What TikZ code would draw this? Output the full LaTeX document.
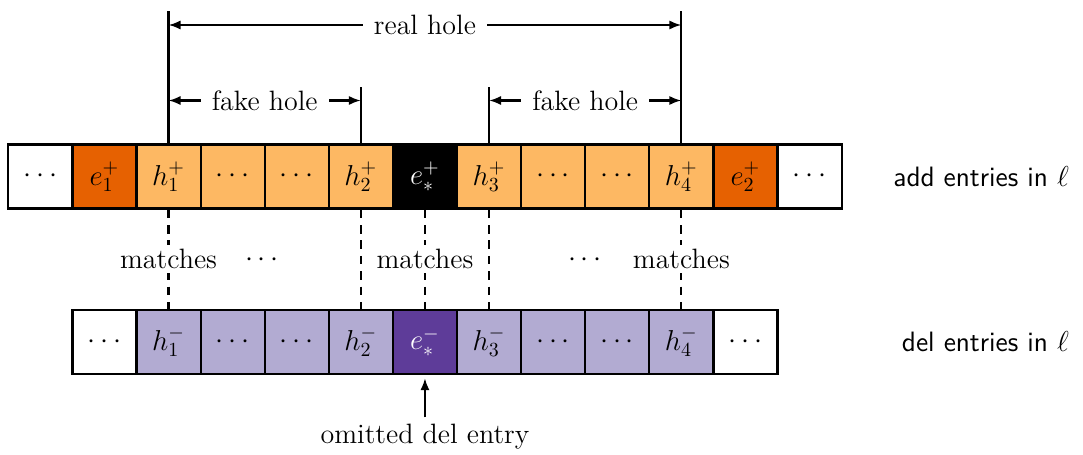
\documentclass[tikz,border=0pt]{standalone}
\usepackage{fontspec}
\usetikzlibrary{arrows.meta}
\definecolor{darkor}{HTML}{E66101}
\definecolor{lightor}{HTML}{FDB863}
\definecolor{lightpu}{HTML}{B2ABD2}
\definecolor{darkpu}{HTML}{5E3C99}
\begin{document}
\begin{tikzpicture}[x={(0.5pt,0)}, y={(0,-0.5pt)},
  every node/.style={font=\fontsize{14}{17}\selectfont},
  cell/.style={draw, line width=1.1pt, minimum size=32.05pt, inner sep=0pt},
  aor/.style={cell, fill=darkor},
  lor/.style={cell, fill=lightor},
  blk/.style={cell, fill=black, text=white},
  lpu/.style={cell, fill=lightpu},
  dpu/.style={cell, fill=darkpu, text=white},
  wht/.style={cell, fill=white},
  lbl/.style={fill=white, inner xsep=5.5pt, inner ysep=2pt},
  tip/.tip={Latex[length=6pt,width=4.6pt]},
  dim/.style={line width=1.1pt, tip-tip},
  vln/.style={line width=1.1pt},
  mdash/.style={line width=1.1pt, dash pattern=on 4.3pt off 3.4pt},
  side/.style={font=\fontsize{14}{17}\selectfont\sffamily, anchor=east}
]
\useasboundingbox (0,0) rectangle (1083,455);

% top row
\node[wht] (a0)  at (40.35,176.5)  {$\cdots$};
\node[aor] (e1p) at (104.45,176.5) {$e_1^+$};
\node[lor] (h1p) at (168.55,176.5) {$h_1^+$};
\node[lor] (a3)  at (232.65,176.5) {$\cdots$};
\node[lor] (a4)  at (296.75,176.5) {$\cdots$};
\node[lor] (h2p) at (360.85,176.5) {$h_2^+$};
\node[blk] (esp) at (424.95,176.5) {$e_*^+$};
\node[lor] (h3p) at (489.05,176.5) {$h_3^+$};
\node[lor] (a8)  at (553.15,176.5) {$\cdots$};
\node[lor] (a9)  at (617.25,176.5) {$\cdots$};
\node[lor] (h4p) at (681.35,176.5) {$h_4^+$};
\node[aor] (e2p) at (745.45,176.5) {$e_2^+$};
\node[wht] (a12) at (809.55,176.5) {$\cdots$};

% bottom row
\node[wht] (b1)  at (104.45,342) {$\cdots$};
\node[lpu] (h1m) at (168.55,342) {$h_1^-$};
\node[lpu] (b3)  at (232.65,342) {$\cdots$};
\node[lpu] (b4)  at (296.75,342) {$\cdots$};
\node[lpu] (h2m) at (360.85,342) {$h_2^-$};
\node[dpu] (esm) at (424.95,342) {$e_*^-$};
\node[lpu] (h3m) at (489.05,342) {$h_3^-$};
\node[lpu] (b8)  at (553.15,342) {$\cdots$};
\node[lpu] (b9)  at (617.25,342) {$\cdots$};
\node[lpu] (h4m) at (681.35,342) {$h_4^-$};
\node[wht] (b11) at (745.45,342) {$\cdots$};

% side labels
\node[side] (addl) at (1076,176.5) {add entries in $\ell$};
\node[side] (dell) at (1076,342) {del entries in $\ell$};

% hole markers
\coordinate (toptall) at (0,11);
\coordinate (topshort) at (0,87);
\coordinate (realy) at (0,25);
\coordinate (fakey) at (0,100.5);
\draw[vln] (h1p.north) -- (h1p.north |- toptall);
\draw[vln] (h4p.north) -- (h4p.north |- toptall);
\draw[vln] (h2p.north) -- (h2p.north |- topshort);
\draw[vln] (h3p.north) -- (h3p.north |- topshort);
\draw[dim] (h1p.north |- realy) -- (h4p.north |- realy) node[midway, lbl] {real hole};
\draw[dim] (h1p.north |- fakey) -- (h2p.north |- fakey) node[midway, lbl] {fake hole};
\draw[dim] (h3p.north |- fakey) -- (h4p.north |- fakey) node[midway, lbl] {fake hole};

% matches
\draw[mdash] (h1p.south) -- (h1m.north) node[midway, lbl, inner xsep=3pt] {matches};
\draw[mdash] (h2p.south) -- (h2m.north);
\draw[mdash] (esp.south) -- (esm.north) node[midway, lbl, inner xsep=3pt] {matches};
\draw[mdash] (h3p.south) -- (h3m.north);
\draw[mdash] (h4p.south) -- (h4m.north) node[midway, lbl, inner xsep=3pt] {matches};
\node (d1) at (262,260) {$\cdots$};
\node (d2) at (585,260) {$\cdots$};

% omitted
\node (om) at (424.95,437) {omitted del entry};
\draw[line width=1.1pt, -tip] (om.north) -- ([yshift=-1.5pt]esm.south);
\end{tikzpicture}
\end{document}
